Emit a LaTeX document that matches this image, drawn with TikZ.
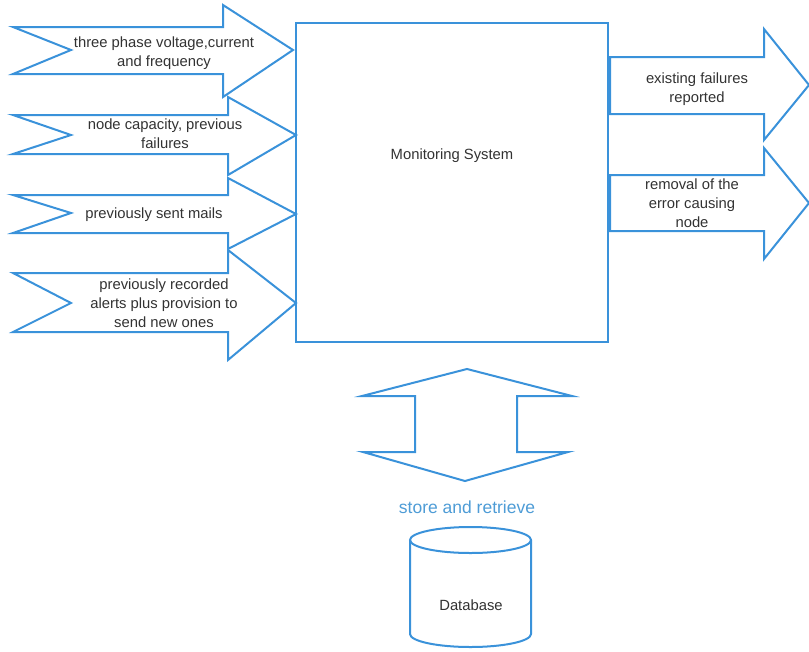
\documentclass[tikz,border=0pt]{standalone}
\usepackage{fontspec}
\setmainfont{Liberation Sans}
\definecolor{myblue}{RGB}{58,146,218}
\definecolor{lightblue}{RGB}{78,156,214}
\definecolor{txtgrey}{RGB}{50,50,50}
\tikzset{
  shp/.style={draw=myblue, line width=2pt, line join=miter},
  lbl/.style={text=txtgrey, font=\fontsize{14.8}{19}\selectfont, align=center, inner sep=0pt}
}
\begin{document}
\begin{tikzpicture}[x=1pt,y=-1pt]
\useasboundingbox (0,0) rectangle (809,651);
% main box
\draw[shp] (296,23) rectangle (608,342);
\node[lbl] (ms) at (452,156) {Monitoring System};
% input arrows
\draw[shp] (13,27) -- (223,27) -- (223,5) -- (293,50) -- (223,97) -- (223,74) -- (13,74) -- (71,50) -- cycle;
\draw[shp] (13,115) -- (228,115) -- (228,97) -- (296,135) -- (228,175) -- (228,154) -- (13,154) -- (71,135) -- cycle;
\draw[shp] (13,195) -- (228,195) -- (228,178) -- (296,214) -- (228,249) -- (228,233) -- (13,233) -- (71,213) -- cycle;
\draw[shp] (13,273) -- (228,273) -- (228,250) -- (296,303) -- (228,360) -- (228,332) -- (13,332) -- (71,303) -- cycle;
\node[lbl] (in1) at (164,53) {three phase voltage,current\\and frequency};
\node[lbl] (in2) at (165,134) {node capacity, previous\\failures};
\node[lbl] (in3) at (154,215) {previously sent mails};
\node[lbl] (in4) at (164,303) {previously recorded\\alerts plus provision to\\send new ones};
% output arrows
\draw[shp] (610,57) -- (764,57) -- (764,29) -- (809,85) -- (764,140) -- (764,114) -- (610,114) -- cycle;
\draw[shp] (610,175) -- (764,175) -- (764,148) -- (809,203) -- (764,259) -- (764,231) -- (610,231) -- cycle;
\node[lbl] (out1) at (697,89) {existing failures\\reported};
\node[lbl] (out2) at (692,203) {removal of the\\error causing\\node};
% double arrow
\draw[shp] (467,369) -- (572,396) -- (517,396) -- (517,452) -- (568,452) -- (465,481) -- (363,452) -- (415,452) -- (415,396) -- (362,396) -- cycle;
\node[text=lightblue, font=\fontsize{17.5}{20}\selectfont, inner sep=0pt] (sr) at (467,507) {store and retrieve};
% database
\draw[shp] (410,540) -- (410,634) arc[start angle=180, end angle=360, x radius=60.5pt, y radius=13pt] -- (531,540);
\draw[shp] (470.5,540) ellipse [x radius=60.5pt, y radius=13pt];
\node[lbl] (db) at (471,605) {Database};
\end{tikzpicture}
\end{document}
